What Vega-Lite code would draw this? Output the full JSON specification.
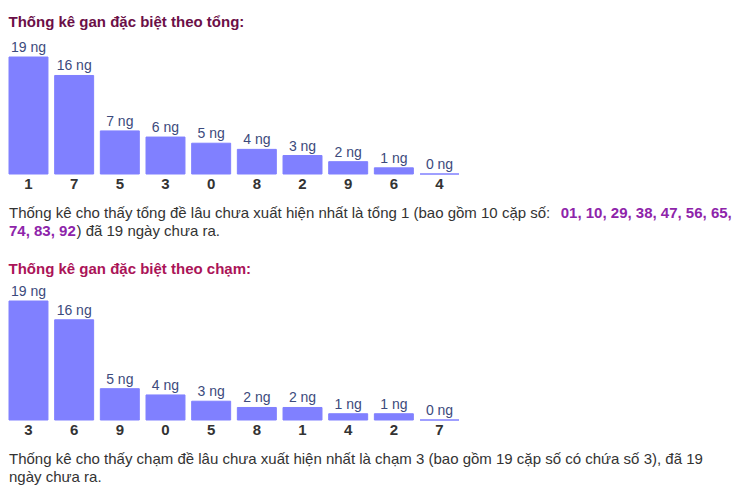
{
  "$schema": "https://vega.github.io/schema/vega-lite/v6.json",
  "background": "white",
  "padding": {"left": 8, "top": 15, "right": 0, "bottom": 0},
  "autosize": {"type": "pad"},
  "spacing": 4,
  "config": {
    "view": {"stroke": null},
    "font": "Liberation Sans",
    "title": {"font": "Liberation Sans", "fontSize": 15, "fontWeight": "bold", "anchor": "start", "offset": 8}
  },
  "datasets": {
    "tong": [
      {"so": "1", "ngay": 19, "label": "19 ng"},
      {"so": "7", "ngay": 16, "label": "16 ng"},
      {"so": "5", "ngay": 7, "label": "7 ng"},
      {"so": "3", "ngay": 6, "label": "6 ng"},
      {"so": "0", "ngay": 5, "label": "5 ng"},
      {"so": "8", "ngay": 4, "label": "4 ng"},
      {"so": "2", "ngay": 3, "label": "3 ng"},
      {"so": "9", "ngay": 2, "label": "2 ng"},
      {"so": "6", "ngay": 1, "label": "1 ng"},
      {"so": "4", "ngay": 0, "label": "0 ng"}
    ],
    "cham": [
      {"so": "3", "ngay": 19, "label": "19 ng"},
      {"so": "6", "ngay": 16, "label": "16 ng"},
      {"so": "9", "ngay": 5, "label": "5 ng"},
      {"so": "0", "ngay": 4, "label": "4 ng"},
      {"so": "5", "ngay": 3, "label": "3 ng"},
      {"so": "8", "ngay": 2, "label": "2 ng"},
      {"so": "1", "ngay": 2, "label": "2 ng"},
      {"so": "4", "ngay": 1, "label": "1 ng"},
      {"so": "2", "ngay": 1, "label": "1 ng"},
      {"so": "7", "ngay": 0, "label": "0 ng"}
    ],
    "para1": [
      {"line": 1, "part": "a", "text": "Thống kê cho thấy tổng đề lâu chưa xuất hiện nhất là tổng 1 (bao gồm 10 cặp số: "},
      {"line": 1, "part": "b", "text": "01, 10, 29, 38, 47, 56, 65,"},
      {"line": 2, "part": "c", "text": "74, 83, 92"},
      {"line": 2, "part": "d", "text": ") đã 19 ngày chưa ra."}
    ],
    "para2": [
      {"line": 1, "text": "Thống kê cho thấy chạm đề lâu chưa xuất hiện nhất là chạm 3 (bao gồm 19 cặp số có chứa số 3), đã 19"},
      {"line": 2, "text": "ngày chưa ra."}
    ]
  },
  "vconcat": [
    {
      "title": {"text": "Thống kê gan đặc biệt theo tổng:", "color": "#6b0f47", "offset": 11},
      "width": 450,
      "height": 117,
      "data": {"name": "tong"},
      "encoding": {
        "x": {"field": "so", "type": "nominal", "sort": null,
          "scale": {"paddingInner": 0.147, "paddingOuter": 0},
          "axis": {"title": null, "domain": false, "ticks": false, "labelAngle": 0, "labelFontSize": 15, "labelFontWeight": "bold", "labelColor": "#333333", "labelPadding": 2}},
        "y": {"field": "ngay", "type": "quantitative", "scale": {"domain": [0, 19], "nice": false}, "axis": null}
      },
      "layer": [
        {"mark": {"type": "bar", "color": "#8080ff", "stroke": "#8080ff", "strokeWidth": 1}},
        {"mark": {"type": "text", "baseline": "alphabetic", "dy": -5, "fontSize": 14, "color": "#3c4a7c"},
         "encoding": {"text": {"field": "label"}}}
      ]
    },
    {
      "width": 726,
      "height": 63,
      "data": {"name": "para1"},
      "encoding": {
        "y": {"field": "line", "type": "quantitative", "scale": {"domain": [0, 3.5], "nice": false, "zero": false, "reverse": true}, "axis": null}
      },
      "layer": [
        {"transform": [{"filter": "datum.part == 'a'"}],
         "mark": {"type": "text", "align": "left", "baseline": "middle", "fontSize": 15, "color": "#333333"},
         "encoding": {"x": {"datum": 0, "type": "quantitative", "scale": {"domain": [0, 100], "nice": false}, "axis": null}, "text": {"field": "text"}}},
        {"transform": [{"filter": "datum.part == 'b'"}],
         "mark": {"type": "text", "align": "left", "baseline": "middle", "fontSize": 15, "fontWeight": "bold", "color": "#8e24aa"},
         "encoding": {"x": {"datum": 76, "type": "quantitative"}, "text": {"field": "text"}}},
        {"transform": [{"filter": "datum.part == 'c'"}],
         "mark": {"type": "text", "align": "left", "baseline": "middle", "fontSize": 15, "fontWeight": "bold", "color": "#8e24aa"},
         "encoding": {"x": {"datum": 0, "type": "quantitative"}, "text": {"field": "text"}}},
        {"transform": [{"filter": "datum.part == 'd'"}],
         "mark": {"type": "text", "align": "left", "baseline": "middle", "fontSize": 15, "color": "#333333"},
         "encoding": {"x": {"datum": 9.3, "type": "quantitative"}, "text": {"field": "text"}}}
      ]
    },
    {
      "title": {"text": "Thống kê gan đặc biệt theo chạm:", "color": "#ab1458"},
      "width": 450,
      "height": 119,
      "data": {"name": "cham"},
      "encoding": {
        "x": {"field": "so", "type": "nominal", "sort": null,
          "scale": {"paddingInner": 0.147, "paddingOuter": 0},
          "axis": {"title": null, "domain": false, "ticks": false, "labelAngle": 0, "labelFontSize": 15, "labelFontWeight": "bold", "labelColor": "#333333", "labelPadding": 2}},
        "y": {"field": "ngay", "type": "quantitative", "scale": {"domain": [0, 19], "nice": false}, "axis": null}
      },
      "layer": [
        {"mark": {"type": "bar", "color": "#8080ff", "stroke": "#8080ff", "strokeWidth": 1}},
        {"mark": {"type": "text", "baseline": "alphabetic", "dy": -5, "fontSize": 14, "color": "#3c4a7c"},
         "encoding": {"text": {"field": "label"}}}
      ]
    },
    {
      "width": 726,
      "height": 45,
      "data": {"name": "para2"},
      "mark": {"type": "text", "align": "left", "baseline": "middle", "fontSize": 15, "color": "#333333"},
      "encoding": {
        "y": {"field": "line", "type": "quantitative", "scale": {"domain": [0, 2.5], "nice": false, "zero": false, "reverse": true}, "axis": null},
        "x": {"datum": 0, "type": "quantitative", "scale": {"domain": [0, 100], "nice": false}, "axis": null},
        "text": {"field": "text"}
      }
    }
  ]
}
